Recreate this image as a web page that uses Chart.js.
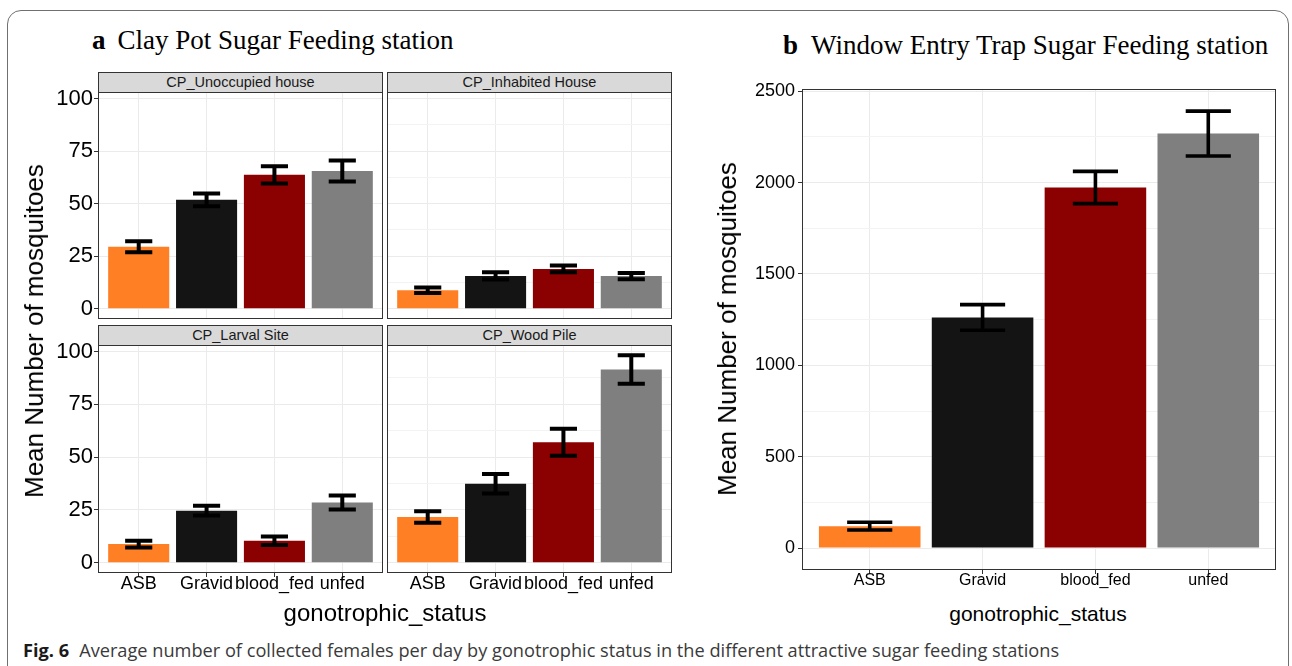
<!DOCTYPE html>
<html>
<head>
<meta charset="utf-8">
<title>Fig. 6</title>
<script src="https://cdn.jsdelivr.net/npm/chart.js@4.4.1/dist/chart.umd.min.js"></script>
<style>
  html, body { margin: 0; padding: 0; width: 1292px; height: 666px; overflow: hidden; background: #fff; }
  canvas { position: absolute; }
  .frame { position: absolute; left: 7px; top: 10px; width: 1282px; height: 700px; box-sizing: border-box;
           border: 1.5px solid #707070; border-radius: 14px; }
  .title { position: absolute; font-family: "Liberation Serif", "Times New Roman", serif; font-size: 27px;
           line-height: 27px; color: #000; white-space: nowrap; }
  .strip { position: absolute; box-sizing: border-box; background: #d9d9d9; border: 1px solid #333;
           font-family: "Liberation Sans", Arial, sans-serif; font-size: 14.5px; line-height: 19px;
           color: #1a1a1a; text-align: center; white-space: nowrap; }
  .axt { position: absolute; font-family: "Liberation Sans", Arial, sans-serif; color: #000; white-space: nowrap; }
  .rot { transform: translate(-50%, -50%) rotate(-90deg); }
  .caption { position: absolute; left: 23px; top: 641px; font-family: "Open Sans", "Noto Sans", sans-serif;
             font-size: 18.2px; line-height: 18.2px; color: #3a3a3a; white-space: nowrap; }
  .caption b { color: #1a1a1a; margin-right: 10px; }
</style>
</head>
<body>
<div class="frame"></div>

<div class="title" style="left:92px; top:27px;"><b>a</b><span style="margin-left:12px">Clay Pot Sugar Feeding station</span></div>
<div class="title" style="left:783px; top:32px;"><b>b</b><span style="margin-left:13px">Window Entry Trap Sugar Feeding station</span></div>

<div class="strip" style="left:98px; top:72px; width:285px; height:21px;">CP_Unoccupied house</div>
<div class="strip" style="left:387px; top:72px; width:285px; height:21px;">CP_Inhabited House</div>
<div class="strip" style="left:98px; top:325px; width:285px; height:21px;">CP_Larval Site</div>
<div class="strip" style="left:387px; top:325px; width:285px; height:21px;">CP_Wood Pile</div>

<canvas id="unoccupied" width="345" height="245" style="left:40px; top:76px;"></canvas>
<canvas id="inhabited" width="294" height="245" style="left:380px; top:76px;"></canvas>
<canvas id="larval" width="345" height="276" style="left:40px; top:329px;"></canvas>
<canvas id="woodpile" width="294" height="276" style="left:380px; top:329px;"></canvas>
<canvas id="windowTrap" width="550" height="527" style="left:730px; top:73px;"></canvas>

<div class="axt rot" style="left:34px; top:331px; font-size:26px; line-height:26px;">Mean Number of mosquitoes</div>
<div class="axt" style="left:385px; top:601px; font-size:24px; line-height:24px; transform:translateX(-50%);">gonotrophic_status</div>
<div class="axt rot" style="left:727px; top:329px; font-size:26px; line-height:26px;">Mean Number of mosquitoes</div>
<div class="axt" style="left:1038px; top:603px; font-size:21px; line-height:21px; transform:translateX(-50%);">gonotrophic_status</div>

<div class="caption"><b>Fig. 6</b>Average number of collected females per day by gonotrophic status in the different attractive sugar feeding stations</div>

<script>
const statusLabels = ['ASB', 'Gravid', 'blood_fed', 'unfed'];
const statusColors = ['#FF7F24', '#141414', '#8B0000', '#7F7F7F'];

// a: clay pot stations, mean per day and error
const unoccupiedMeans = [29.5, 51.8, 63.7, 65.5];
const unoccupiedErrors = [2.6, 3.0, 4.1, 5.0];
const inhabitedMeans = [8.8, 15.6, 18.9, 15.5];
const inhabitedErrors = [1.3, 1.7, 1.6, 1.5];
const larvalMeans = [8.8, 24.6, 10.4, 28.5];
const larvalErrors = [1.6, 2.3, 2.0, 3.3];
const woodMeans = [21.6, 37.4, 57.0, 91.5];
const woodErrors = [2.7, 4.6, 6.4, 6.7];

// b: window entry trap
const windowMeans = [120, 1262, 1973, 2268];
const windowErrors = [21, 70, 88, 123];

const clayMajorTicks = [0, 25, 50, 75, 100];
const clayMinorTicks = [12.5, 37.5, 62.5, 87.5];
const windowMajorTicks = [0, 500, 1000, 1500, 2000, 2500];
const windowMinorTicks = [250, 750, 1250, 1750, 2250];

const sans = 'Liberation Sans, Arial, sans-serif';

const errorBars = {
    id: 'errorBars',
    afterDatasetsDraw(chart, args, opts) {
        const ctx = chart.ctx;
        const x = chart.scales.x;
        const y = chart.scales.y;
        const ds = chart.data.datasets[0];
        const half = x.getPixelForValue(0.2) - x.getPixelForValue(0);
        ctx.save();
        ctx.strokeStyle = '#000';
        ctx.lineWidth = opts.lineWidth;
        ds.data.forEach((d, i) => {
            const px = x.getPixelForValue(d.x);
            const hi = y.getPixelForValue(d.y + ds.errors[i]);
            const lo = y.getPixelForValue(d.y - ds.errors[i]);
            ctx.beginPath();
            ctx.moveTo(px - half, hi); ctx.lineTo(px + half, hi);
            ctx.moveTo(px, hi); ctx.lineTo(px, lo);
            ctx.moveTo(px - half, lo); ctx.lineTo(px + half, lo);
            ctx.stroke();
        });
        ctx.restore();
    }
};

const panelBorder = {
    id: 'panelBorder',
    afterDraw(chart, args, opts) {
        const a = chart.chartArea;
        const ctx = chart.ctx;
        ctx.save();
        ctx.strokeStyle = opts.color;
        ctx.lineWidth = 1;
        ctx.strokeRect(a.left + 0.5, a.top + 0.5, a.right - a.left - 1, a.bottom - a.top - 1);
        ctx.restore();
    }
};

function drawPanel(id, means, errors, o) {
    const allTicks = o.major.concat(o.minor).sort((a, b) => a - b);
    const isMajor = v => o.major.includes(v);

    return new Chart(document.getElementById(id), {
        type: 'bar',
        data: {
            datasets: [{
                data: means.map((v, i) => ({ x: i, y: v })),
                errors: errors,
                backgroundColor: statusColors,
                borderWidth: 0,
                barPercentage: 0.9,
                categoryPercentage: 1
            }]
        },
        options: {
            responsive: false,
            animation: false,
            events: [],
            layout: { padding: o.padding },
            plugins: {
                legend: { display: false },
                tooltip: { enabled: false },
                errorBars: { lineWidth: o.errWidth },
                panelBorder: { color: '#333333' }
            },
            scales: {
                x: {
                    type: 'linear',
                    min: -0.6,
                    max: 3.6,
                    offset: false,
                    afterBuildTicks: s => { s.ticks = statusLabels.map((_, i) => ({ value: i })); },
                    afterFit: s => { s.height = o.xHeight; s.paddingLeft = 0; s.paddingRight = 0; },
                    ticks: {
                        display: o.xLabels,
                        autoSkip: false,
                        maxRotation: 0,
                        minRotation: 0,
                        callback: v => statusLabels[v],
                        font: { family: sans, size: o.xFont, lineHeight: 1 },
                        color: '#000',
                        padding: o.xPad
                    },
                    grid: { offset: false, color: '#EBEBEB', drawTicks: o.xLabels, tickLength: 4, tickColor: '#333333' },
                    border: { display: false }
                },
                y: {
                    min: o.yMin,
                    max: o.yMax,
                    afterBuildTicks: s => { s.ticks = allTicks.map(v => ({ value: v })); },
                    afterFit: s => { s.width = o.yWidth; s.paddingTop = 0; s.paddingBottom = 0; },
                    ticks: {
                        display: o.yLabels,
                        callback: v => isMajor(v) ? String(v) : '',
                        font: { family: sans, size: o.yFont },
                        color: '#000',
                        padding: o.yPad
                    },
                    grid: {
                        color: c => isMajor(c.tick.value) ? '#EBEBEB' : '#F3F3F3',
                        drawTicks: o.yLabels,
                        tickLength: 4,
                        tickColor: c => isMajor(c.tick.value) ? '#333333' : 'rgba(0,0,0,0)'
                    },
                    border: { display: false }
                }
            }
        },
        plugins: [errorBars, panelBorder]
    });
}

const clay = { major: clayMajorTicks, minor: clayMinorTicks, yMin: -4.9, yMax: 103.1, errWidth: 4, yFont: 22, xFont: 18, yPad: 1, xPad: -2 };

drawPanel('unoccupied', unoccupiedMeans, unoccupiedErrors, Object.assign({}, clay, {
    padding: { left: 0, top: 16, right: 2, bottom: 2 }, yWidth: 58, xHeight: 0, yLabels: true, xLabels: false }));
drawPanel('inhabited', inhabitedMeans, inhabitedErrors, Object.assign({}, clay, {
    padding: { left: 7, top: 16, right: 2, bottom: 2 }, yWidth: 0, xHeight: 0, yLabels: false, xLabels: false }));
drawPanel('larval', larvalMeans, larvalErrors, Object.assign({}, clay, {
    padding: { left: 0, top: 16, right: 2, bottom: 2 }, yWidth: 58, xHeight: 30, yLabels: true, xLabels: true }));
drawPanel('woodpile', woodMeans, woodErrors, Object.assign({}, clay, {
    padding: { left: 7, top: 16, right: 2, bottom: 2 }, yWidth: 0, xHeight: 30, yLabels: false, xLabels: true }));

drawPanel('windowTrap', windowMeans, windowErrors, {
    major: windowMajorTicks, minor: windowMinorTicks, yMin: -120, yMax: 2512, errWidth: 3.6,
    yFont: 18, xFont: 16, yPad: 3, xPad: -1,
    padding: { left: 0, top: 16, right: 4, bottom: 2 }, yWidth: 72, xHeight: 28, yLabels: true, xLabels: true });
</script>
</body>
</html>
